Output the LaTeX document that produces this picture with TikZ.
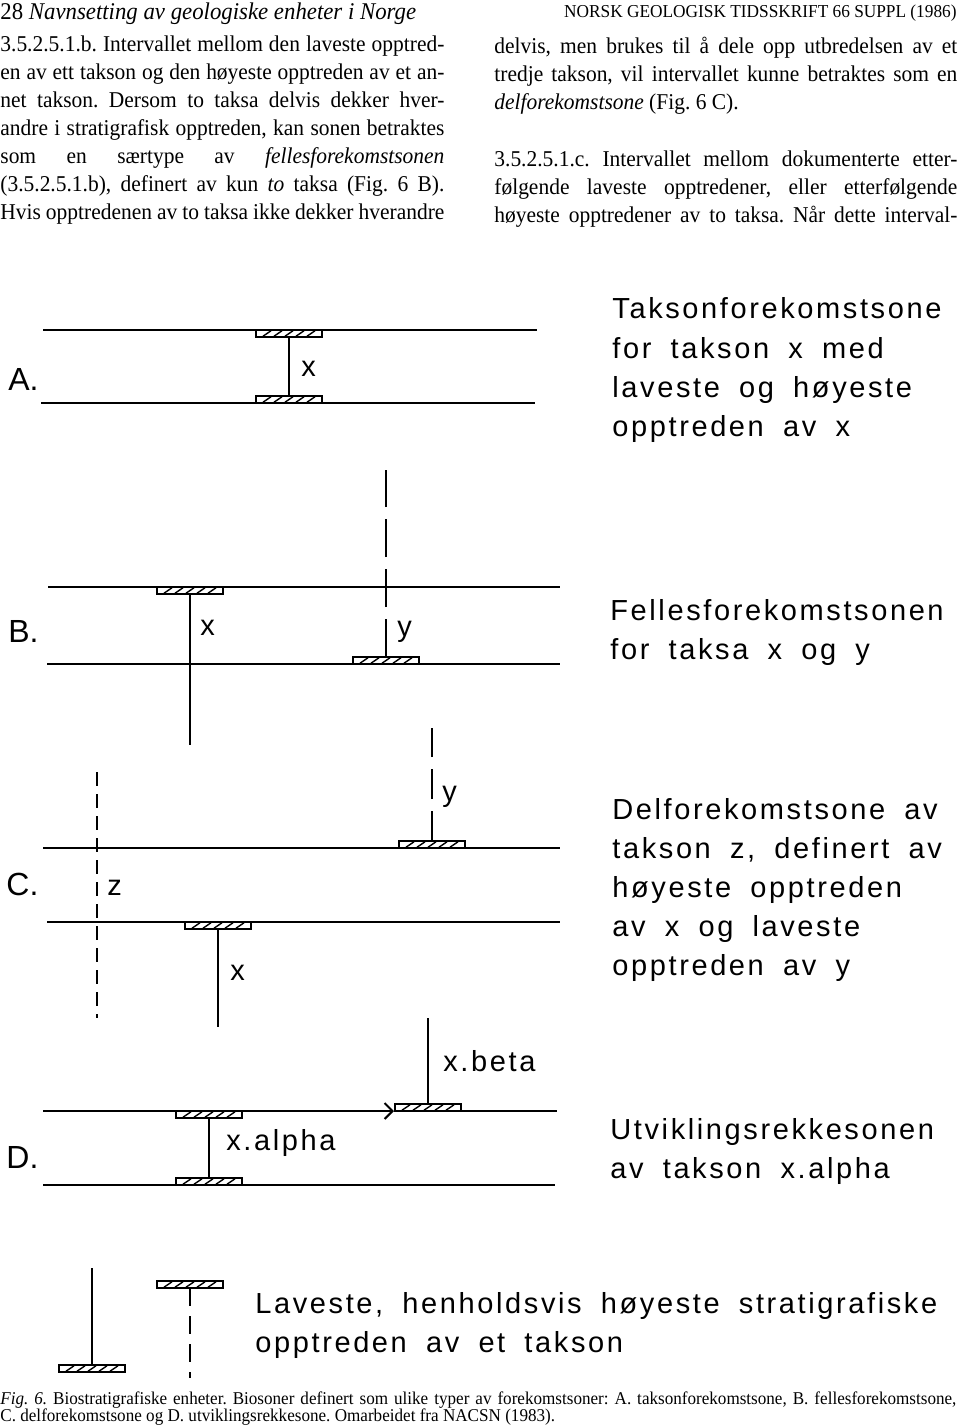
\documentclass[tikz,border=0pt]{standalone}
\usepackage{fontspec}
\usetikzlibrary{arrows.meta}
\setmainfont[FakeStretch=0.95]{Liberation Serif}
\newfontfamily\figfont[LetterSpace=9,WordSpace=1.8]{Liberation Sans}
\newfontfamily\panelfont{Liberation Sans}
\frenchspacing

\tikzset{
  zoneline/.style={line width=1pt},
  rangeline/.style={line width=1pt},
  brokenline/.style={line width=1pt, dash pattern=on 19pt off 6pt},
  barline/.style={line width=0.7pt},
  bodytext/.style={inner sep=0pt, anchor=base west, font=\fontsize{11.3pt}{14pt}\selectfont},
  figtext/.style={inner sep=0pt, anchor=base west, font=\figfont\fontsize{14.5pt}{19.5pt}\selectfont},
  panellabel/.style={inner sep=0pt, anchor=base west, font=\panelfont\fontsize{16pt}{19pt}\selectfont},
  % hatched bar on top of a line (lowest occurrence)
  lowbar/.pic={
    \draw[barline] (-33,0) rectangle (33,-7);
    \foreach \s in {-22,-11,0,11,22}
      \draw[barline] ({\s-4},-0.8) -- ({\s+4},-6.2);
    \coordinate (-in) at (0,-7);
  },
  % hatched bar under a line (highest occurrence)
  topbar/.pic={
    \draw[barline] (-33,0) rectangle (33,7);
    \foreach \s in {-22,-11,0,11,22}
      \draw[barline] ({\s-4},6.2) -- ({\s+4},0.8);
    \coordinate (-in) at (0,7);
  }
}

\begin{document}
\begin{tikzpicture}[x=0.5pt,y=-0.5pt]
\useasboundingbox (0,0) rectangle (960,1428);

% page text
\node[anchor=base west, inner sep=0pt, font=\fontsize{12pt}{14pt}\selectfont] (pagehead) at (0,20)
  {28 \textit{Navnsetting av geologiske enheter i Norge}};
\node[anchor=base east, inner sep=0pt, font=\fontsize{9.1pt}{10pt}\selectfont] (journal) at (957,18)
  {NORSK GEOLOGISK TIDSSKRIFT 66 SUPPL (1986)};

\foreach \txt [count=\i] in {
  {3.5.2.5.1.b. Intervallet mellom den laveste opptred-},
  {en av ett takson og den høyeste opptreden av et an-},
  {net takson. Dersom to taksa delvis dekker hver-},
  {andre i stratigrafisk opptreden, kan sonen betraktes},
  {som en særtype av \textit{fellesforekomstsonen}},
  {(3.5.2.5.1.b), definert av kun \textit{to} taksa (Fig. 6 B).},
  {Hvis opptredenen av to taksa ikke dekker hverandre}}
  \node[bodytext] (left\i) at (0,{24+28*\i}) {\makebox[222pt][s]{\txt}};

\foreach \txt [count=\i] in {
  {delvis, men brukes til å dele opp utbredelsen av et},
  {tredje takson, vil intervallet kunne betraktes som en}}
  \node[bodytext] (right\i) at (494,{26+28*\i}) {\makebox[231.5pt][s]{\txt}};
\node[bodytext] (right3) at (494,110) {\textit{delforekomstsone} (Fig. 6 C).};
\foreach \txt [count=\i] in {
  {3.5.2.5.1.c. Intervallet mellom dokumenterte etter-},
  {følgende laveste opptredener, eller etterfølgende},
  {høyeste opptredener av to taksa. Når dette interval-}}
  \node[bodytext] (rightc\i) at (494,{139+28*\i}) {\makebox[231.5pt][s]{\txt}};

% A
\draw[zoneline] (43,330) -- (537,330);
\draw[zoneline] (41,403) -- (535,403);
\pic (atop) at (289,330) {topbar};
\pic (alow) at (289,403) {lowbar};
\draw[rangeline] (atop-in) -- (alow-in);
\node[figtext] (ax) at (301,376) {x};
\node[panellabel] (alab) at (8,390) {A.};
\foreach \txt [count=\i] in {Taksonforekomstsone, for takson x med, laveste og høyeste, opptreden av x}
  \node[figtext] (atxt\i) at (612,{280+39*\i}) {\txt};

% B
\draw[zoneline] (48,587) -- (560,587);
\draw[zoneline] (47,664) -- (560,664);
\pic (bx) at (190,587) {topbar};
\coordinate (bxend) at (190,745);
\draw[rangeline] (bx-in) -- (bxend);
\pic (by) at (386,664) {lowbar};
\coordinate (byend) at (386,470);
\draw[brokenline] (by-in) -- (byend);
\node[figtext] (bxl) at (200,635) {x};
\node[figtext] (byl) at (397,636) {y};
\node[panellabel] (blab) at (8,642) {B.};
\foreach \txt [count=\i] in {Fellesforekomstsonen, for taksa x og y}
  \node[figtext] (btxt\i) at (610,{581+39*\i}) {\txt};

% C
\draw[zoneline] (43,848) -- (560,848);
\draw[zoneline] (47,922) -- (560,922);
\pic (cy) at (432,848) {lowbar};
\coordinate (cyend) at (432,728);
\draw[brokenline, dash pattern=on 15pt off 6pt] (cy-in) -- (cyend);
\pic (cx) at (218,922) {topbar};
\coordinate (cxend) at (218,1027);
\draw[rangeline] (cx-in) -- (cxend);
\coordinate (ztop) at (97,772);
\coordinate (zbot) at (97,1018);
\draw[rangeline, dash pattern=on 7pt off 4pt] (ztop) -- (zbot);
\node[figtext] (cyl) at (442,801) {y};
\node[figtext] (czl) at (107,895) {z};
\node[figtext] (cxl) at (230,980) {x};
\node[panellabel] (clab) at (6,895) {C.};
\foreach \txt [count=\i] in {Delforekomstsone av, {takson z, definert av}, høyeste opptreden, av x og laveste, opptreden av y}
  \node[figtext] (ctxt\i) at (612,{780+39*\i}) {\txt};

% D
\coordinate (dtl) at (43,1111);
\coordinate (dtip) at (394,1111);
\draw[zoneline, -{Straight Barb[length=4pt,width=8pt]}] (dtl) -- (dtip);
\draw[zoneline] (dtip) -- (557,1111);
\draw[zoneline] (43,1185) -- (555,1185);
\pic (dbeta) at (428,1111) {lowbar};
\coordinate (dbetaend) at (428,1018);
\draw[rangeline] (dbeta-in) -- (dbetaend);
\pic (dtop) at (209,1111) {topbar};
\pic (dlow) at (209,1185) {lowbar};
\draw[rangeline] (dtop-in) -- (dlow-in);
\node[figtext] (dbl) at (443,1071) {x.beta};
\node[figtext] (dal) at (226,1150) {x.alpha};
\node[panellabel] (dlab) at (6,1168) {D.};
\foreach \txt [count=\i] in {Utviklingsrekkesonen, av takson x.alpha}
  \node[figtext] (dtxt\i) at (610,{1100+39*\i}) {\txt};

% legend
\pic (legl) at (92,1372) {lowbar};
\coordinate (leglend) at (92,1268);
\draw[rangeline] (legl-in) -- (leglend);
\pic (legh) at (190,1281) {topbar};
\coordinate (leghend) at (190,1378);
\draw[rangeline, dash pattern=on 9pt off 5pt] (legh-in) -- (leghend);
\foreach \txt [count=\i] in {{Laveste, henholdsvis høyeste stratigrafiske}, opptreden av et takson}
  \node[figtext] (legtxt\i) at (255,{1274+39*\i}) {\txt};

% caption
\node[anchor=base west, inner sep=0pt, font=\fontsize{9pt}{9pt}\selectfont] (cap1) at (0,1404)
  {\makebox[478pt][s]{\textit{Fig. 6.} Biostratigrafiske enheter. Biosoner definert som ulike typer av forekomstsoner: A. taksonforekomstsone, B. fellesforekomstsone,}};
\node[anchor=base west, inner sep=0pt, font=\fontsize{9pt}{9pt}\selectfont] (cap2) at (0,1421)
  {C. delforekomstsone og D. utviklingsrekkesone. Omarbeidet fra NACSN (1983).};
\end{tikzpicture}
\end{document}
